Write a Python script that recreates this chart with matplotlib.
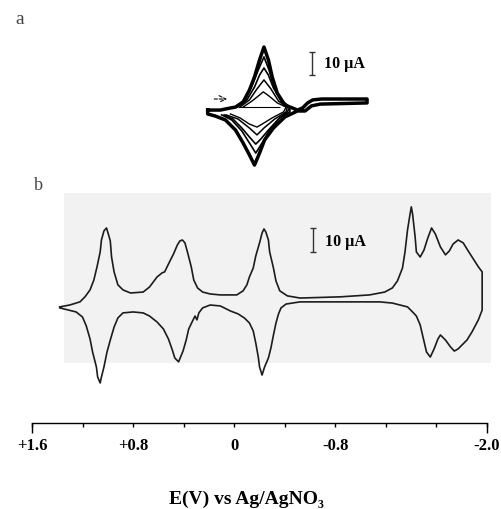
import matplotlib
matplotlib.use('Agg')
import matplotlib.pyplot as plt
from matplotlib.patches import Rectangle

plt.rcParams['font.family'] = ['Liberation Serif', 'DejaVu Serif']

# ---- panel b: CV, potential in V vs Ag/AgNO3, current in uA ----
# forward scan (upper trace), left to right
b_E_up = [1.37, 1.29, 1.21, 1.17, 1.13, 1.10, 1.075, 1.05, 1.04, 1.02,
          1.00, 0.99, 0.97, 0.96, 0.94, 0.91, 0.87, 0.81, 0.71, 0.66,
          0.60, 0.56, 0.54, 0.51, 0.47, 0.44, 0.42, 0.40, 0.38, 0.36,
          0.33, 0.31, 0.28, 0.24, 0.18, 0.10, -0.03, -0.08, -0.11, -0.13,
          -0.16, -0.18, -0.21, -0.23, -0.245, -0.26, -0.28, -0.29, -0.32, -0.34,
          -0.37, -0.43, -0.53, -0.85, -1.08, -1.20, -1.26, -1.30, -1.34, -1.36,
          -1.38, -1.40, -1.41, -1.42, -1.44, -1.45, -1.48, -1.51, -1.54, -1.57,
          -1.60, -1.64, -1.68, -1.71, -1.74, -1.78, -1.82, -1.86, -1.91, -1.94,
          -1.97]
b_I_up = [-2.9, -2.1, -0.8, 1.3, 4.2, 8.3, 13.8, 20.0, 25.0, 28.8,
          30.0, 28.3, 24.6, 17.9, 11.7, 6.3, 4.2, 2.9, 3.3, 5.4,
          9.6, 11.3, 11.7, 15.0, 19.2, 22.9, 24.6, 25.0, 23.8, 20.0,
          13.8, 8.3, 5.0, 3.3, 2.5, 2.1, 2.1, 3.8, 6.3, 9.6,
          13.3, 18.3, 23.8, 27.9, 29.6, 28.3, 25.0, 20.0, 13.3, 7.9,
          3.8, 1.7, 0.8, 1.3, 2.1, 3.3, 5.0, 7.9, 13.3, 20.0,
          29.2, 35.8, 38.8, 35.8, 26.3, 20.0, 17.9, 20.8, 25.8, 30.0,
          27.5, 22.1, 18.8, 20.4, 23.3, 25.0, 23.8, 20.4, 16.3, 13.8,
          11.7]
# return scan (lower trace), right to left
b_E_down = [-1.97, -1.94, -1.89, -1.85, -1.81, -1.78, -1.75, -1.72, -1.68, -1.64,
            -1.62, -1.59, -1.56, -1.53, -1.51, -1.48, -1.45, -1.42, -1.38, -1.26,
            -1.16, -0.53, -0.42, -0.38, -0.36, -0.34, -0.32, -0.30, -0.28, -0.25,
            -0.23, -0.21, -0.20, -0.18, -0.16, -0.13, -0.09, -0.04, 0.02, 0.10,
            0.18, 0.24, 0.27, 0.285, 0.30, 0.32, 0.35, 0.37, 0.395, 0.42,
            0.43, 0.46, 0.48, 0.51, 0.55, 0.60, 0.66, 0.71, 0.79, 0.87,
            0.91, 0.94, 0.97, 0.996, 1.02, 1.04, 1.05, 1.07, 1.08, 1.11,
            1.13, 1.16, 1.19, 1.24, 1.30, 1.37]
b_I_down = [-4.2, -8.3, -13.3, -16.7, -18.8, -20.4, -21.3, -19.6, -16.7, -14.6,
            -16.3, -20.4, -23.8, -21.7, -17.1, -10.4, -6.7, -5.0, -2.9, -1.3,
            -0.8, -0.8, -1.7, -3.3, -5.8, -9.6, -14.6, -20.0, -24.2, -27.9,
            -31.3, -27.9, -23.8, -17.9, -12.9, -9.6, -7.5, -5.8, -4.6, -2.5,
            -2.1, -3.3, -5.4, -8.3, -6.7, -8.8, -12.1, -16.7, -21.3, -24.6,
            -25.8, -24.2, -20.8, -16.3, -12.1, -9.2, -6.7, -5.4, -5.0, -5.4,
            -7.5, -11.3, -16.7, -21.7, -27.9, -32.1, -34.6, -32.1, -27.9, -21.7,
            -16.3, -10.8, -7.1, -5.0, -4.2, -3.3]

# ---- panel a: scan-rate series, outermost first ----
a_curves = [
    # (E upper, I upper, E lower, I lower)
    ([0.20, 0.10, 0.02, -0.02, -0.08, -0.13, -0.17, -0.21, -0.245, -0.28,
      -0.31, -0.35, -0.41, -0.47, -0.51, -0.55, -0.59, -0.63, -0.70, -1.06],
     [-0.9, -0.9, 0.0, 0.4, 2.6, 7.8, 13.5, 20.9, 26.5, 20.9,
      13.5, 6.5, 1.3, 0.0, -0.9, 0.0, 2.2, 3.5, 3.9, 3.9],
     [-1.06, -0.69, -0.62, -0.57, -0.51, -0.41, -0.32, -0.25, -0.21, -0.17,
      -0.13, -0.08, -0.02, 0.06, 0.14, 0.20, 0.20],
     [2.2, 1.7, 0.9, -1.3, -1.3, -3.9, -8.7, -13.9, -19.6, -24.8,
      -20.4, -15.2, -9.6, -5.2, -3.5, -2.6, -0.9]),
    ([-0.02, -0.09, -0.15, -0.20, -0.245, -0.285, -0.32, -0.38, -0.45],
     [0.4, 3.5, 9.6, 16.5, 22.2, 16.5, 9.6, 3.5, 0.4],
     [-0.45, -0.37, -0.29, -0.23, -0.18, -0.13, -0.07, 0.01, 0.09],
     [-1.7, -4.3, -9.6, -15.2, -19.6, -15.2, -10.0, -5.2, -3.0]),
    ([-0.03, -0.11, -0.17, -0.21, -0.245, -0.28, -0.32, -0.38, -0.45],
     [0.4, 3.5, 9.1, 14.3, 17.4, 14.3, 8.7, 3.0, 0.4],
     [-0.43, -0.36, -0.28, -0.22, -0.18, -0.13, -0.07, 0.0, 0.07],
     [-1.7, -4.8, -9.6, -13.5, -15.7, -12.6, -8.7, -4.8, -3.0]),
    ([-0.055, -0.13, -0.19, -0.245, -0.30, -0.36, -0.43],
     [0.4, 3.5, 8.3, 12.2, 8.3, 3.0, 0.4],
     [-0.42, -0.33, -0.245, -0.19, -0.13, -0.04, 0.055],
     [-1.7, -4.8, -8.7, -11.7, -8.7, -4.8, -3.0]),
    ([-0.08, -0.15, -0.20, -0.24, -0.285, -0.35, -0.42],
     [0.4, 3.0, 5.2, 7.0, 5.2, 2.2, 0.4],
     [-0.40, -0.31, -0.23, -0.19, -0.13, -0.055, 0.02],
     [-1.7, -4.3, -7.0, -8.3, -7.0, -4.3, -2.6]),
]
a_widths = [2.5, 1.2, 1.2, 1.1, 1.0]

# potential axis
tick_pos = [1.6, 1.2, 0.8, 0.4, 0.0, -0.4, -0.8, -1.2, -1.6, -2.0]
tick_lab = ['+1.6', '', '+0.8', '', '0', '', '-0.8', '', '', '-2.0']

W, H = 501, 509
fig = plt.figure(figsize=(W / 100, H / 100), dpi=100)

x_lim = (1.842, -2.119)

# panel a
ax_a = fig.add_axes([0, 1 - 180 / H, 1, 150 / H])
ax_a.set_xlim(*x_lim)
ax_a.set_ylim(-31.3, 33.9)
ax_a.axis('off')
for (eu, iu, ed, idn), lw in zip(a_curves, a_widths):
    ax_a.plot(eu + ed, iu + idn, color='black', lw=lw, solid_joinstyle='round')
ax_a.hlines(0.4, -0.04, -0.37, color='black', lw=0.8)
ax_a.annotate('', xy=(0.024, 3.9), xytext=(0.17, 3.9),
              arrowprops=dict(arrowstyle='->', lw=0.9, linestyle=(0, (2.5, 1.5)),
                              color='#222222', mutation_scale=12))
ax_a.errorbar([-0.625], [19.3], yerr=[5.0], color='#333333', lw=1.0,
              capsize=2.5, capthick=1.0)
ax_a.text(-0.72, 19.0, '10 µA', fontsize=11.5, fontweight='bold',
          va='center', ha='left')
fig.text(20 / W, 1 - 19 / H, 'a', fontsize=14, color='#444444',
         ha='center', va='center')

# panel b
ax_b = fig.add_axes([0, 1 - 400 / H, 1, 220 / H])
ax_b.set_xlim(*x_lim)
ax_b.set_ylim(-41.7, 50)
ax_b.axis('off')
ax_b.add_patch(Rectangle((1.336, -26.3), -2.040 - 1.336, 44.6 + 26.3,
                         facecolor='#f2f2f2', edgecolor='none', zorder=0))
ax_b.plot(b_E_up + b_E_down, b_I_up + b_I_down, color='#1c1c1c', lw=1.2,
          solid_joinstyle='round')
ax_b.errorbar([-0.632], [25.0], yerr=[5.0], color='#333333', lw=1.0,
              capsize=2.5, capthick=1.0)
ax_b.text(-0.727, 24.2, '10 µA', fontsize=11.5, fontweight='bold',
          va='center', ha='left')
fig.text(38 / W, 1 - 186 / H, 'b', fontsize=13, color='#444444',
         ha='center', va='center')

# potential axis
ax_x = fig.add_axes([32 / W, 1 - 423 / H, 455 / W, 0.0005])
ax_x.set_xlim(1.6, -2.0)
ax_x.set_yticks([])
ax_x.patch.set_visible(False)
for s in ['top', 'left', 'right']:
    ax_x.spines[s].set_visible(False)
ax_x.spines['bottom'].set_linewidth(1.0)
ax_x.set_xticks(tick_pos)
ax_x.set_xticklabels(tick_lab, fontsize=12, fontweight='bold')
ax_x.set_xticks([1.6, -2.0], minor=True)
ax_x.xaxis.remove_overlapping_locs = False
ax_x.tick_params(axis='x', which='major', length=3, width=1.0, pad=8)
ax_x.tick_params(axis='x', which='minor', length=7, width=1.0)

fig.text(246 / W, 1 - 499 / H, 'E(V) vs Ag/AgNO₃', fontsize=14,
         fontweight='bold', ha='center', va='center')

fig.savefig('out.png', dpi=100)
